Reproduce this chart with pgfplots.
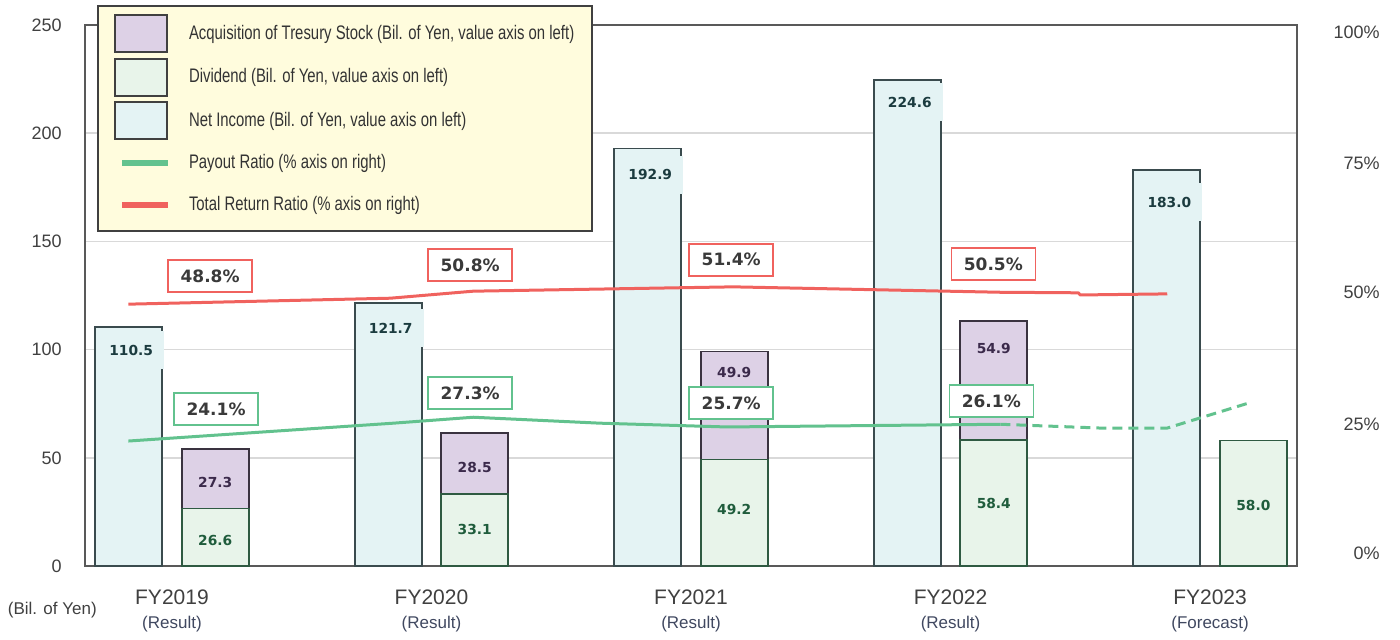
\documentclass[border=0pt]{standalone}
\usepackage{pgfplots}
\pgfplotsset{compat=1.18}
\usepackage{fontspec}
\setmainfont{Liberation Sans}
\newfontfamily\narrowfont[FakeStretch=0.76]{Liberation Sans}
\newfontfamily\dejavu{DejaVu Sans}
\definecolor{nicol}{HTML}{E4F3F4}
\definecolor{nibord}{HTML}{3A4B4E}
\definecolor{divcol}{HTML}{E8F4EA}
\definecolor{divbord}{HTML}{2F5A42}
\definecolor{tsycol}{HTML}{DDD1E6}
\definecolor{tsybord}{HTML}{3A3340}
\definecolor{gline}{HTML}{62C28E}
\definecolor{rline}{HTML}{F0625E}
\definecolor{gridcol}{HTML}{D9D9D9}
\definecolor{framecol}{HTML}{595959}
\definecolor{tickcol}{HTML}{404040}
\definecolor{rescol}{HTML}{404860}
\definecolor{legfill}{HTML}{FFFCDD}
\definecolor{legbord}{HTML}{404040}
\definecolor{nitext}{HTML}{1B3B3F}
\definecolor{divtext}{HTML}{1F5C3C}
\definecolor{tsytext}{HTML}{3B2A4B}
\definecolor{pcttext}{HTML}{3A3A3A}
\tikzset{
  nilab/.style={fill=nicol, inner sep=0pt, minimum width=33pt, minimum height=19pt, text=nitext, font=\dejavu\bfseries\fontsize{6.9}{7.5}\selectfont},
  divlab/.style={inner sep=0pt, text=divtext, font=\dejavu\bfseries\fontsize{6.9}{7.5}\selectfont},
  tsylab/.style={inner sep=0pt, text=tsytext, font=\dejavu\bfseries\fontsize{6.9}{7.5}\selectfont},
  rlab/.style={draw=rline, line width=0.75pt, fill=white, inner sep=0pt, minimum width=42pt, minimum height=16pt, text=pcttext, font=\dejavu\bfseries\fontsize{8.5}{9}\selectfont},
  glab/.style={draw=gline, line width=0.75pt, fill=white, inner sep=0pt, minimum width=42pt, minimum height=16pt, text=pcttext, font=\dejavu\bfseries\fontsize{8.5}{9}\selectfont},
}
\pgfplotsset{
  common/.style={scale only axis, width=606pt, height=270.5pt,
    xmin=-0.335, xmax=4.335, clip=false,
    /pgf/number format/assume math mode=true},
}
\begin{document}
\begin{tikzpicture}
\path[use as bounding box] (-42.5pt,-36.5pt) rectangle (657.5pt,283pt);
% axis 1: frame, grid, net income
\begin{axis}[common,
  ymin=0, ymax=250,
  axis line style={draw=framecol, line width=1pt},
  ytick={0,50,100,150,200,250},
  ymajorgrids, grid style={draw=gridcol, line width=0.75pt},
  major tick length=0pt,
  xtick={0,1,2,3,4},
  xticklabels={
    {\fontsize{10.5}{12}\selectfont FY2019\\[0pt]\fontsize{8.5}{10}\selectfont\color{rescol}(Result)},
    {\fontsize{10.5}{12}\selectfont FY2020\\[0pt]\fontsize{8.5}{10}\selectfont\color{rescol}(Result)},
    {\fontsize{10.5}{12}\selectfont FY2021\\[0pt]\fontsize{8.5}{10}\selectfont\color{rescol}(Result)},
    {\fontsize{10.5}{12}\selectfont FY2022\\[0pt]\fontsize{8.5}{10}\selectfont\color{rescol}(Result)},
    {\fontsize{10.5}{12}\selectfont FY2023\\[0pt]\fontsize{8.5}{10}\selectfont\color{rescol}(Forecast)}},
  xticklabel style={align=center, anchor=north, inner sep=0pt, yshift=-11.5pt, text=tickcol},
  yticklabel style={anchor=east, inner sep=0pt, xshift=-11.5pt, text=tickcol, font=\fontsize{9}{10}\selectfont},
  ybar, bar width=33.5pt, bar shift=-21.6pt,
]
\addplot[fill=nicol, draw=nibord, line width=0.9pt] coordinates {(0,110.5) (1,121.7) (2,192.9) (3,224.6) (4,183.0)};
\node[nilab] at (axis cs:-0.157,99.8) {110.5};
\node[nilab] at (axis cs:0.843,110) {121.7};
\node[nilab] at (axis cs:1.843,180.7) {192.9};
\node[nilab] at (axis cs:2.843,214.4) {224.6};
\node[nilab] at (axis cs:3.843,168.2) {183.0};
\node[text=tickcol, font=\fontsize{8.5}{10}\selectfont] at (axis cs:-0.461,-20.3) {(Bil. of Yen)};
\end{axis}
% axis 2: dividend + treasury stock (stacked)
\begin{axis}[common,
  ymin=0, ymax=250, hide axis,
  ybar stacked, bar width=33.5pt, bar shift=21.6pt,
]
\addplot[fill=divcol, draw=divbord, line width=0.9pt] coordinates {(0,26.6) (1,33.1) (2,49.2) (3,58.4) (4,58.0)};
\addplot[fill=tsycol, draw=tsybord, line width=0.9pt] coordinates {(0,27.3) (1,28.5) (2,49.9) (3,54.9)};
\end{axis}
% axis 3: ratios on right (percent = left value / 2.5)
\begin{axis}[common,
  ymin=0, ymax=100,
  hide x axis, axis y line*=right,
  axis line style={draw=none},
  major tick length=0pt,
  ytick={2.4,26.2,50.5,74.5,98.7},
  yticklabels={0\%,25\%,50\%,75\%,100\%},
  yticklabel style={anchor=east, inner sep=0pt, xshift=41.5pt, text=tickcol, font=\fontsize{9}{10}\selectfont},
  legend cell align=left,
  legend style={at={(rel axis cs:0.0099,1.037)}, anchor=north west,
    fill=legfill, draw=legbord, line width=1pt,
    inner xsep=8pt, inner ysep=4pt, row sep=2.3pt, column sep=8pt,
    nodes={inner sep=1pt, text=black!80},
    font=\narrowfont\fontsize{9.8}{11}\selectfont},
]
\addlegendimage{legend image code/.code={\draw[fill=tsycol, draw=legbord, line width=1pt] (0pt,-9.25pt) rectangle (26pt,9.25pt);}}
\addlegendentry{Acquisition of Tresury Stock (Bil. of Yen, value axis on left)}
\addlegendimage{legend image code/.code={\draw[fill=divcol, draw=legbord, line width=1pt] (0pt,-9.25pt) rectangle (26pt,9.25pt);}}
\addlegendentry{Dividend (Bil. of Yen, value axis on left)}
\addlegendimage{legend image code/.code={\draw[fill=nicol, draw=legbord, line width=1pt] (0pt,-9.25pt) rectangle (26pt,9.25pt);}}
\addlegendentry{Net Income (Bil. of Yen, value axis on left)}
\addlegendimage{legend image code/.code={\path[draw=none, fill=none] (0pt,-9.25pt) rectangle (26pt,9.25pt); \draw[gline, line width=3pt] (3.5pt,0pt) -- (26.5pt,0pt);}}
\addlegendentry{Payout Ratio (\% axis on right)}
\addlegendimage{legend image code/.code={\path[draw=none, fill=none] (0pt,-9.25pt) rectangle (26pt,9.25pt); \draw[rline, line width=3pt] (3.5pt,0pt) -- (26.5pt,0pt);}}
\addlegendentry{Total Return Ratio (\% axis on right)}
\addplot[forget plot, gline, line width=1.5pt, line join=round] coordinates {(-0.168,23.1) (0.853,26.4) (1.161,27.5) (1.650,26.4) (2.139,25.7) (3.192,26.2)};
\addplot[forget plot, gline, line width=1.5pt, line join=round, dash pattern=on 5pt off 3pt] coordinates {(3.192,26.2) (3.577,25.5) (3.835,25.5) (4.147,30.1)};
\addplot[forget plot, rline, line width=1.5pt, line join=round] coordinates {(-0.168,48.4) (0.841,49.5) (1.161,50.8) (2.163,51.6) (3.192,50.6) (3.492,50.5) (3.50,50.1) (3.835,50.3)};
% stacked bar values (positions in percent units = value/2.5)
\node[divlab] at (axis cs:0.1667,4.8) {26.6};
\node[divlab] at (axis cs:1.1667,6.84) {33.1};
\node[divlab] at (axis cs:2.1667,10.52) {49.2};
\node[divlab] at (axis cs:3.1667,11.64) {58.4};
\node[divlab] at (axis cs:4.1667,11.2) {58.0};
\node[tsylab] at (axis cs:0.1667,15.52) {27.3};
\node[tsylab] at (axis cs:1.1667,18.28) {28.5};
\node[tsylab] at (axis cs:2.1667,35.68) {49.9};
\node[tsylab] at (axis cs:3.1667,40.12) {54.9};
\node[rlab] at (axis cs:0.147,53.6) {48.8\%};
\node[rlab] at (axis cs:1.149,55.6) {50.8\%};
\node[rlab] at (axis cs:2.155,56.6) {51.4\%};
\node[rlab] at (axis cs:3.165,55.8) {50.5\%};
\node[glab] at (axis cs:0.170,29.0) {24.1\%};
\node[glab] at (axis cs:1.149,32.0) {27.3\%};
\node[glab] at (axis cs:2.155,30.1) {25.7\%};
\node[glab] at (axis cs:3.157,30.5) {26.1\%};
\end{axis}
\end{tikzpicture}
\end{document}
